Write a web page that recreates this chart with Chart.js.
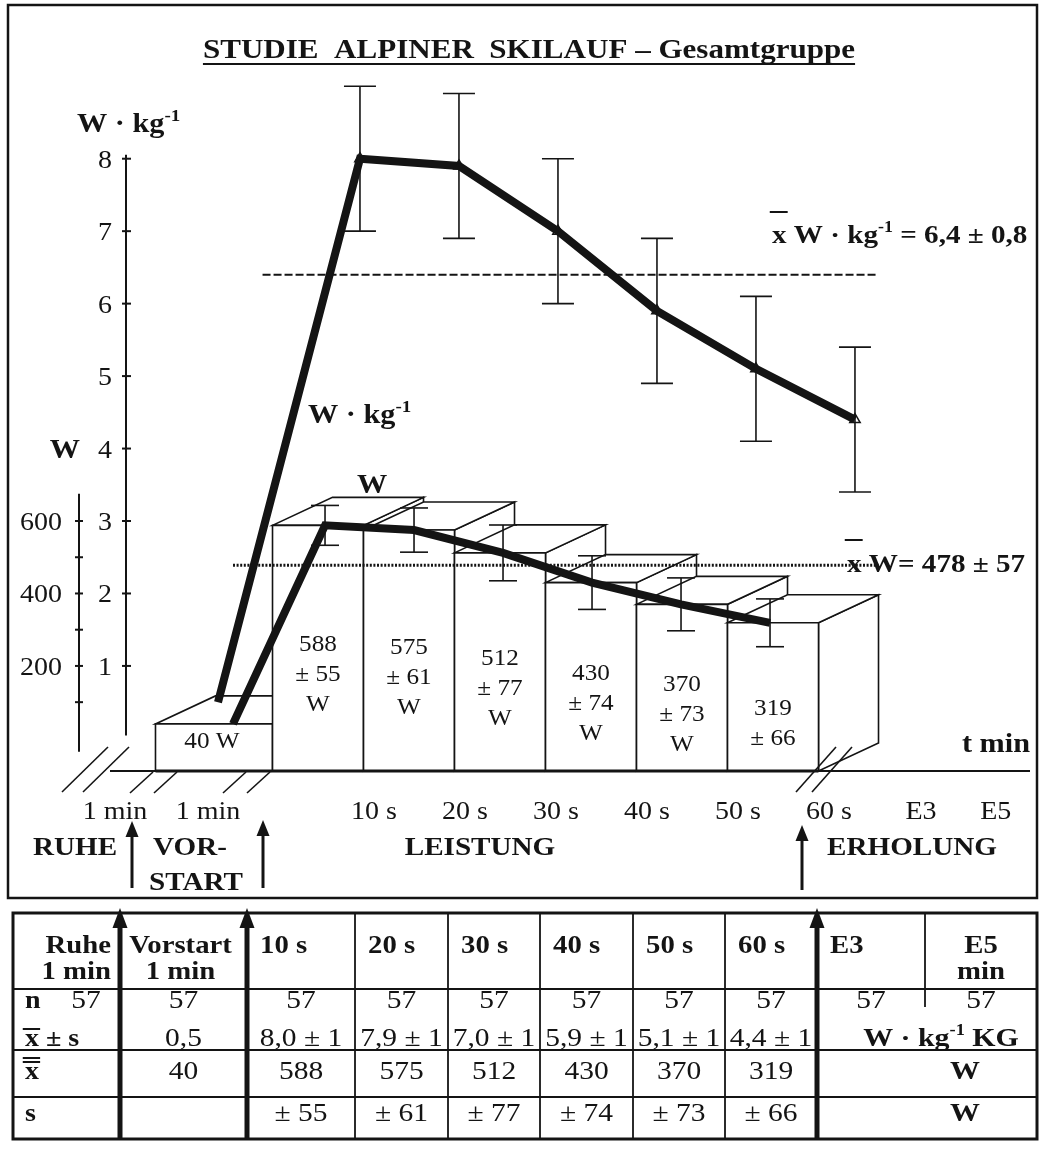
<!DOCTYPE html>
<html lang="de">
<head>
<meta charset="utf-8">
<title>Studie alpiner Skilauf – Gesamtgruppe</title>
<script src="https://cdn.jsdelivr.net/npm/chart.js@4.4.1/dist/chart.umd.min.js"></script>
<style>
  html, body { margin: 0; padding: 0; background: #fff; }
  canvas { display: block; }
</style>
</head>
<body>
<canvas id="chart" width="1040" height="1151"></canvas>
<script>
// ---------------- data ----------------
const tableHeader    = [['Ruhe', '1 min'], ['Vorstart', '1 min'], ['10 s'], ['20 s'], ['30 s'],
                        ['40 s'], ['50 s'], ['60 s'], ['E3'], ['E5', 'min']];
const axisTimeLabels = ['1 min', '1 min', '10 s', '20 s', '30 s', '40 s', '50 s', '60 s', 'E3', 'E5'];
const phaseNames     = ['RUHE', 'VOR-\nSTART', 'LEISTUNG', 'ERHOLUNG'];
const sampleSize     = [57, 57, 57, 57, 57, 57, 57, 57, 57, 57];
// measured phases: Vorstart, 10 s, 20 s, 30 s, 40 s, 50 s, 60 s
const relPowerMean   = [0.5, 8.0, 7.9, 7.0, 5.9, 5.1, 4.4];   // W·kg-1
const relPowerSd     = [null, 1, 1, 1, 1, 1, 1];
const absPowerMean   = [40, 588, 575, 512, 430, 370, 319];    // W
const absPowerSd     = [null, 55, 61, 77, 74, 73, 66];
const relPowerTotal  = [6.4, 0.8];                             // mean ± sd over the 60 s
const absPowerTotal  = [478, 57];
const relTicks       = [1, 2, 3, 4, 5, 6, 7, 8];
const absTicks       = [100, 200, 300, 400, 500, 600];
const absTickLabels  = [200, 400, 600];

// ---------------- layout ----------------
const SERIF = '"Liberation Serif", "Times New Roman", Times, serif';
const INK = '#141414';
const PLOT = { left: 126, right: 1030, top: 79, bottom: 771 };
const Y_MIN = -0.45, Y_MAX = 9.1;      // W·kg-1 axis; the floor of the boxes sits at Y_MIN
const W_PER_UNIT = 200;                 // W axis: 200 W per unit of the W·kg-1 axis
const DEPTH = { dx: 60, dy: -28 };      // receding edges of the boxes

// drawing planes of the pseudo-3-D figure: pixel of the pre-start slot, slot width,
// and the extra room of the broken axis between pre-start and the 10-s samples
const PLANES = {
  x:  { origin: 214, w: 91, gap: 0.143 },   // front faces of the boxes
  xw: { origin: 233, w: 89, gap: 0.034 },   // W curve
  xk: { origin: 218, w: 99, gap: 0.434 }    // W·kg-1 curve
};
const slot = (i, plane) => (i === 0 ? 0 : i + PLANES[plane].gap);
const planeScale = id => ({
  type: 'linear', display: false, offset: false,
  min: (PLOT.left - PLANES[id].origin) / PLANES[id].w,
  max: (PLOT.right - PLANES[id].origin) / PLANES[id].w
});
const fmt = v => v.toFixed(1).replace('.', ',');

// ---------------- drawing helpers ----------------
function text(ctx, str, x, y, o = {}) {
  const size = o.size || 25, sx = o.sx || 1.12;
  ctx.save();
  ctx.font = (o.bold ? 'bold ' : '') + size + 'px ' + SERIF;
  ctx.fillStyle = INK;
  ctx.textAlign = o.align || 'left';
  ctx.textBaseline = o.baseline || 'alphabetic';
  ctx.translate(x, y);
  ctx.scale(sx, 1);
  ctx.fillText(str, 0, 0);
  const w = ctx.measureText(str).width * sx;
  ctx.restore();
  return w;
}
// runs of text with superscripts and overbars
function rich(ctx, segs, x, y, o = {}) {
  const size = o.size || 25, sx = o.sx || 1.12;
  const fontOf = s => (o.bold ? 'bold ' : '') + (s.sup ? Math.round(size * 0.62) : size) + 'px ' + SERIF;
  ctx.save();
  ctx.translate(x, y);
  ctx.scale(sx, 1);
  let total = 0;
  segs.forEach(s => { ctx.font = fontOf(s); s.w = ctx.measureText(s.t).width; total += s.w; });
  let cx = o.align === 'center' ? -total / 2 : (o.align === 'right' ? -total : 0);
  ctx.fillStyle = INK; ctx.strokeStyle = INK;
  ctx.textAlign = 'left'; ctx.textBaseline = 'alphabetic';
  segs.forEach(s => {
    ctx.font = fontOf(s);
    ctx.fillText(s.t, cx, s.sup ? -size * 0.42 : 0);
    if (s.bar) {
      ctx.lineWidth = 2;
      const bars = s.bar === 2 ? [s.barY, s.barY + 4] : [s.barY];
      bars.forEach(by => { ctx.beginPath(); ctx.moveTo(cx - 2, -by); ctx.lineTo(cx + s.w + 1, -by); ctx.stroke(); });
    }
    cx += s.w;
  });
  ctx.restore();
}
function seg(ctx, pts, w) {
  ctx.save(); ctx.strokeStyle = INK; ctx.lineWidth = w; ctx.lineCap = 'butt';
  ctx.beginPath(); ctx.moveTo(pts[0][0], pts[0][1]);
  for (let i = 1; i < pts.length; i++) ctx.lineTo(pts[i][0], pts[i][1]);
  ctx.stroke(); ctx.restore();
}
function poly(ctx, pts) {
  ctx.beginPath(); ctx.moveTo(pts[0][0], pts[0][1]);
  for (let i = 1; i < pts.length; i++) ctx.lineTo(pts[i][0], pts[i][1]);
  ctx.closePath(); ctx.fill(); ctx.stroke();
}
function arrowUp(ctx, x, yFrom, yTip, shaft, headW, headH) {
  ctx.save(); ctx.fillStyle = INK; ctx.strokeStyle = INK; ctx.lineWidth = shaft;
  ctx.beginPath(); ctx.moveTo(x, yFrom); ctx.lineTo(x, yTip + headH - 1); ctx.stroke();
  ctx.beginPath(); ctx.moveTo(x, yTip); ctx.lineTo(x - headW / 2, yTip + headH);
  ctx.lineTo(x + headW / 2, yTip + headH); ctx.closePath(); ctx.fill();
  ctx.restore();
}
function errBar(ctx, x, yHi, yLo, half) {
  seg(ctx, [[x, yHi], [x, yLo]], 1.6);
  seg(ctx, [[x - half, yHi], [x + half, yHi]], 1.6);
  seg(ctx, [[x - half, yLo], [x + half, yLo]], 1.6);
}
const kgSegs = () => [{ t: 'W' }, { t: ' · ' }, { t: 'kg' }, { t: '-1', sup: true }];

// box outlines (front face, top, right wall) from the bar elements laid out by Chart.js
function boxGeometry(chart) {
  const meta = chart.getDatasetMeta(0);
  const fx = chart.scales.x;
  const out = meta.data.map((el, i) => {
    const cx = fx.getPixelForValue(meta._parsed[i].x);
    return { cx, L: cx - el.width / 2, R: cx + el.width / 2, T: el.y, B: el.base };
  });
  // the pre-start box fills its whole slot up to the first 10-s box
  if (out.length > 1) { out[0].R = out[1].L; out[0].L = out[0].cx - (out[0].R - out[0].cx); }
  return out;
}

// ---------------- figure plugin ----------------
const figure = {
  id: 'figure',
  beforeDatasetsDraw(chart) {
    const { ctx, chartArea: area } = chart;
    const ky = chart.scales.y, wy = chart.scales.yW;

    // frame and title
    ctx.save(); ctx.strokeStyle = INK; ctx.lineWidth = 2.5;
    ctx.strokeRect(8, 5, 1029, 893); ctx.restore();
    const tw = text(ctx, 'STUDIE  ALPINER  SKILAUF – Gesamtgruppe', 529, 58, { size: 27, bold: true, align: 'center', sx: 1.15 });
    seg(ctx, [[529 - tw / 2, 64], [529 + tw / 2, 64]], 2);

    // W·kg-1 axis
    const ax = area.left;
    seg(ctx, [[ax, ky.getPixelForValue(8) - 4], [ax, ky.getPixelForValue(0) - 3]], 2);
    relTicks.forEach(v => {
      const py = ky.getPixelForValue(v);
      seg(ctx, [[ax - 4, py], [ax + 5, py]], 2);
      text(ctx, String(v), ax - 14, py + 9, { size: 25, align: 'right' });
    });
    rich(ctx, kgSegs(), 77, 132, { size: 27, bold: true });

    // W axis
    const wx = area.left - 47;
    seg(ctx, [[wx, wy.getPixelForValue(675)], [wx, wy.getPixelForValue(-37)]], 2);
    absTicks.forEach(v => {
      const py = wy.getPixelForValue(v);
      seg(ctx, [[wx - 4, py], [wx + 4, py]], 2);
      if (absTickLabels.includes(v)) text(ctx, String(v), wx - 17, py + 9, { size: 25, align: 'right' });
    });
    text(ctx, 'W', wx + 1, ky.getPixelForValue(4) + 9, { size: 27, bold: true, align: 'right' });

    // floor with axis breaks
    const fy = area.bottom;
    seg(ctx, [[110, fy], [area.right, fy]], 2.2);
    [62, 83].forEach(a => seg(ctx, [[a, fy + 21], [a + 46, fy - 24]], 1.6));
    [130, 154, 223, 247].forEach(a => seg(ctx, [[a, fy + 22], [a + 23, fy + 1]], 1.6));

    // boxes, painted left to right so each box hides the side wall of its left neighbour
    const boxes = boxGeometry(chart);
    ctx.save();
    ctx.fillStyle = '#fff'; ctx.strokeStyle = INK; ctx.lineWidth = 1.6; ctx.lineJoin = 'miter';
    boxes.forEach(b => {
      const dx = DEPTH.dx, dy = DEPTH.dy;
      poly(ctx, [[b.R, b.T], [b.R + dx, b.T + dy], [b.R + dx, b.B + dy], [b.R, b.B]]);
      poly(ctx, [[b.L, b.T], [b.R, b.T], [b.R + dx, b.T + dy], [b.L + dx, b.T + dy]]);
      poly(ctx, [[b.L, b.T], [b.R, b.T], [b.R, b.B], [b.L, b.B]]);
    });
    ctx.restore();
    seg(ctx, [[boxes[0].L, fy], [boxes[boxes.length - 1].R, fy]], 2.8);

    // value labels on the front faces
    boxes.forEach((b, i) => {
      const mid = (b.T + b.B) / 2;
      if (i === 0) { text(ctx, absPowerMean[0] + ' W', b.cx - 2, mid + 1, { size: 24, align: 'center', sx: 1.05 }); return; }
      const lines = [String(absPowerMean[i]), '± ' + absPowerSd[i]];
      if (b.B - b.T >= 150) lines.push('W');
      const first = lines.length === 3 ? mid + 3 : mid + 18;
      lines.forEach((s, k) => text(ctx, s, b.cx, first + k * 30, { size: 24, align: 'center', sx: 1.05 }));
    });
  },

  afterDatasetsDraw(chart) {
    const { ctx, chartArea: area } = chart;
    const ky = chart.scales.y, wy = chart.scales.yW, fx = chart.scales.x;
    const metaOf = key => chart.getDatasetMeta(chart.data.datasets.findIndex(d => d.key === key));

    // error bars
    metaOf('abs').data.forEach((pt, i) => {
      if (absPowerSd[i] == null) return;
      errBar(ctx, pt.x, wy.getPixelForValue(absPowerMean[i] + absPowerSd[i]), wy.getPixelForValue(absPowerMean[i] - absPowerSd[i]), 14);
    });
    metaOf('rel').data.forEach((pt, i) => {
      if (relPowerSd[i] == null) return;
      errBar(ctx, pt.x, ky.getPixelForValue(relPowerMean[i] + relPowerSd[i]), ky.getPixelForValue(relPowerMean[i] - relPowerSd[i]), 16);
    });

    // curve and mean annotations
    rich(ctx, [{ t: 'x', bar: 1, barY: 31 }, { t: ' W' }, { t: ' · ' }, { t: 'kg' }, { t: '-1', sup: true },
               { t: ' = ' + fmt(relPowerTotal[0]) + ' ± ' + fmt(relPowerTotal[1]) }], 772, 243, { size: 26, bold: true });
    rich(ctx, [{ t: 'x', bar: 1, barY: 32 }, { t: ' W= ' + absPowerTotal[0] + ' ± ' + absPowerTotal[1] }], 847, 572, { size: 26, bold: true });
    rich(ctx, kgSegs(), 308, 423, { size: 27, bold: true });
    const first = boxGeometry(chart)[1];
    text(ctx, 'W', first.cx + 54, first.T + DEPTH.dy - 4, { size: 27, bold: true, align: 'center' });

    // time axis labels
    const ty = 819;
    text(ctx, axisTimeLabels[0], fx.getPixelForValue(-1) - 8, ty, { size: 25, align: 'center' });
    text(ctx, axisTimeLabels[1], fx.getPixelForValue(0) - 6, ty, { size: 25, align: 'center' });
    for (let i = 1; i <= 6; i++) {
      text(ctx, axisTimeLabels[i + 1], fx.getPixelForValue(slot(i, 'x')) + DEPTH.dx - 4, ty, { size: 25, align: 'center' });
    }
    const last = slot(6, 'x');
    text(ctx, axisTimeLabels[8], fx.getPixelForValue(last + 1) + DEPTH.dx - 3, ty, { size: 25, align: 'center' });
    text(ctx, axisTimeLabels[9], fx.getPixelForValue(last + 1.8) + DEPTH.dx - 1, ty, { size: 25, align: 'center' });
    text(ctx, 't min', area.right, 752, { size: 27, bold: true, align: 'right' });

    // phase names and phase boundaries
    const py = 855, pb = { size: 26, bold: true, align: 'center' };
    text(ctx, phaseNames[0], 75, py, pb);
    const vs = phaseNames[1].split('\n');
    text(ctx, vs[0], 190, py, pb);
    text(ctx, vs[1], 196, 890, pb);
    text(ctx, phaseNames[2], 480, py, pb);
    text(ctx, phaseNames[3], 912, py, pb);
    arrowUp(ctx, 132, 888, 821, 3, 13, 16);
    arrowUp(ctx, 263, 888, 820, 3, 13, 16);
    arrowUp(ctx, 802, 890, 825, 3, 13, 16);
    // break marks at the end of the performance phase
    seg(ctx, [[796, 792], [836, 747]], 1.6);
    seg(ctx, [[812, 792], [852, 747]], 1.6);

    drawTable(ctx);
  }
};

// ---------------- table ----------------
function drawTable(ctx) {
  const TX = [13, 120, 247, 355, 448, 540, 633, 725, 817, 925, 1037];
  const TY = [913, 989, 1050, 1097, 1139];
  const cx = c => (TX[c] + TX[c + 1]) / 2;
  const head = { size: 25, bold: true, sx: 1.15 };
  const cell = { size: 25, sx: 1.18, align: 'center' };
  const lab = { size: 25, bold: true, sx: 1.12 };

  ctx.save(); ctx.strokeStyle = INK; ctx.lineWidth = 3;
  ctx.strokeRect(TX[0], TY[0], TX[10] - TX[0], TY[4] - TY[0]); ctx.restore();
  [TY[1], TY[2], TY[3]].forEach(y => seg(ctx, [[TX[0], y], [TX[10], y]], 1.8));
  [3, 4, 5, 6, 7].forEach(c => seg(ctx, [[TX[c], TY[0]], [TX[c], TY[4]]], 1.8));
  seg(ctx, [[TX[9], TY[0]], [TX[9], 1007]], 1.8);
  [1, 2, 8].forEach(c => arrowUp(ctx, TX[c], TY[4], 908, 5, 15, 20));

  // header
  tableHeader.forEach((lines, c) => {
    lines.forEach((s, k) => {
      const y = 953 + k * 26;
      if (c === 0) text(ctx, s, TX[1] - 9, y, Object.assign({ align: 'right' }, head));
      else if (c === 1 || c === 9) text(ctx, s, cx(c) + (c === 9 ? 0 : -3), y, Object.assign({ align: 'center' }, head));
      else text(ctx, s, TX[c] + 13, y, head);
    });
  });

  // n
  text(ctx, 'n', 25, 1008, lab);
  sampleSize.forEach((n, c) => text(ctx, String(n), c === 0 ? 86 : cx(c), 1008, cell));

  // relative power
  rich(ctx, [{ t: 'x', bar: 1, barY: 17 }, { t: ' ± s' }], 25, 1046, lab);
  relPowerMean.forEach((m, i) => {
    const s = relPowerSd[i] == null ? fmt(m) : fmt(m) + ' ± ' + relPowerSd[i];
    text(ctx, s, cx(i + 1), 1046, cell);
  });
  rich(ctx, kgSegs().concat([{ t: ' KG' }]), 941, 1046, { size: 26, bold: true, sx: 1.15, align: 'center' });

  // absolute power
  rich(ctx, [{ t: 'x', bar: 2, barY: 17 }], 25, 1079, lab);
  absPowerMean.forEach((m, i) => text(ctx, String(m), cx(i + 1), 1079, cell));
  text(ctx, 'W', 965, 1079, { size: 26, bold: true, sx: 1.15, align: 'center' });

  text(ctx, 's', 25, 1121, lab);
  absPowerSd.forEach((s, i) => { if (s != null) text(ctx, '± ' + s, cx(i + 1), 1121, cell); });
  text(ctx, 'W', 965, 1121, { size: 26, bold: true, sx: 1.15, align: 'center' });
}

// ---------------- chart ----------------
const W_FLOOR = Y_MIN * W_PER_UNIT;
const lastRel = slot(6, 'xk'), lastAbs = slot(6, 'xw');

new Chart(document.getElementById('chart'), {
  type: 'bar',
  data: {
    datasets: [
      { // absolute power as boxes (faces painted by the figure plugin)
        key: 'boxes', type: 'bar', xAxisID: 'x', yAxisID: 'yW', order: 9,
        data: absPowerMean.map((v, i) => ({ x: slot(i, 'x'), y: v })),
        base: W_FLOOR, barThickness: PLANES.x.w, grouped: false,
        barPercentage: 1, categoryPercentage: 1,
        backgroundColor: 'rgba(0,0,0,0)', borderWidth: 0
      },
      { // mean absolute power over the 60 s
        key: 'absMean', type: 'line', xAxisID: 'xw', yAxisID: 'yW', order: 5,
        data: [{ x: 0, y: absPowerTotal[0] }, { x: lastAbs + 1.22, y: absPowerTotal[0] }],
        borderColor: INK, borderWidth: 3, borderDash: [2, 1.6], pointRadius: 0
      },
      { // mean relative power over the 60 s
        key: 'relMean', type: 'line', xAxisID: 'xk', yAxisID: 'y', order: 4,
        data: [{ x: 0.45, y: relPowerTotal[0] }, { x: lastRel + 0.22, y: relPowerTotal[0] }],
        borderColor: INK, borderWidth: 2, borderDash: [8, 3], pointRadius: 0
      },
      { // absolute power curve
        key: 'abs', type: 'line', xAxisID: 'xw', yAxisID: 'yW', order: 3,
        data: absPowerMean.map((v, i) => ({ x: slot(i, 'xw'), y: v })),
        borderColor: INK, borderWidth: 8, pointRadius: 0, tension: 0,
        borderJoinStyle: 'miter', borderCapStyle: 'butt'
      },
      { // relative power curve
        key: 'rel', type: 'line', xAxisID: 'xk', yAxisID: 'y', order: 2,
        data: relPowerMean.map((v, i) => ({ x: slot(i, 'xk'), y: v })),
        borderColor: INK, borderWidth: 8, tension: 0,
        borderJoinStyle: 'miter', borderCapStyle: 'butt',
        pointStyle: 'triangle', pointRadius: c => (c.dataIndex === 0 ? 0 : 6),
        pointBorderWidth: 1.5, pointBorderColor: INK, pointBackgroundColor: 'rgba(0,0,0,0)'
      }
    ]
  },
  options: {
    responsive: false,
    maintainAspectRatio: false,
    devicePixelRatio: 1,
    animation: false,
    events: [],
    layout: {
      autoPadding: false,
      padding: { left: PLOT.left, right: 1040 - PLOT.right, top: PLOT.top, bottom: 1151 - PLOT.bottom }
    },
    scales: {
      x: planeScale('x'),
      xw: planeScale('xw'),
      xk: planeScale('xk'),
      y:  { type: 'linear', display: false, min: Y_MIN, max: Y_MAX },
      yW: { type: 'linear', display: false, min: Y_MIN * W_PER_UNIT, max: Y_MAX * W_PER_UNIT }
    },
    plugins: { legend: { display: false }, tooltip: { enabled: false }, title: { display: false } }
  },
  plugins: [figure]
});
</script>
</body>
</html>
